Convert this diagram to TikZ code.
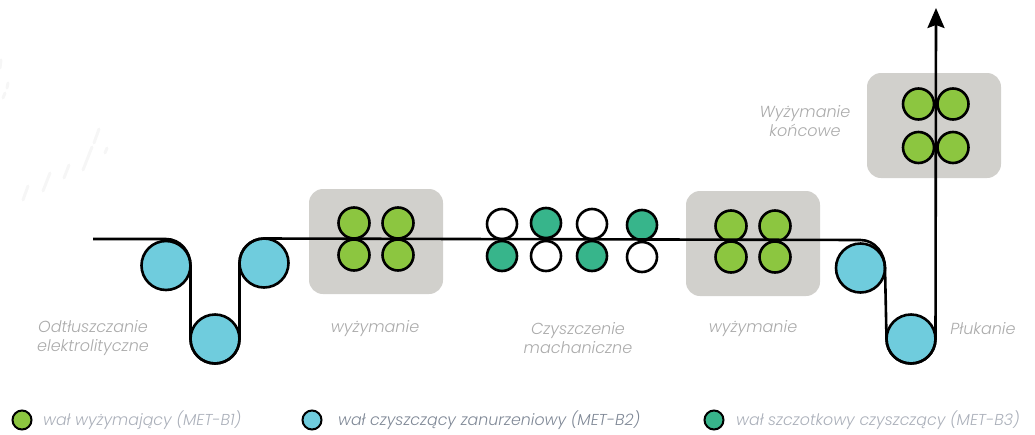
\documentclass[tikz,border=0pt]{standalone}
\usepackage{fontspec}
\setmainfont{Poppins Light}[ItalicFont=Poppins Light Italic]
\usetikzlibrary{positioning, arrows.meta}
\definecolor{greenroll}{HTML}{8CC640}
\definecolor{blueroll}{HTML}{6FCCDD}
\definecolor{tealroll}{HTML}{37B58B}
\definecolor{boxgray}{HTML}{D1D0CC}
\definecolor{labelgray}{HTML}{ABABAB}
\definecolor{legendgray}{HTML}{ABB0BA}
\definecolor{legenddark}{HTML}{7F8896}
\definecolor{smudge}{HTML}{F6F6F6}
\tikzset{roll/.style={circle, draw, line width=2.6pt, minimum size=#1, inner sep=0pt, outer sep=0pt},
	press/.style={roll=31pt, fill=greenroll},
	dip/.style={roll=49pt, fill=blueroll},
	brush/.style={roll=30pt, fill=tealroll},
	idle/.style={roll=30pt, fill=white},
	stage/.style={rounded corners=14pt, fill=boxgray, minimum width=134pt, minimum height=105pt, inner sep=0pt},
	caption/.style={align=center, text=labelgray, font=\fontsize{16}{19}\selectfont\itshape},
	key/.style={anchor=west, inner sep=0pt, font=\fontsize{15.8}{18}\selectfont\itshape},
	keyroll/.style={roll=19pt, line width=2pt},
	strip/.style={line width=2.6pt, line join=round},}

\begin{document}
\begin{tikzpicture}[x=1pt, y=-1pt]
	\useasboundingbox (0,0) rectangle (1035,434);
	% Smudges
	\foreach \xa/\ya/\xb/\yb in {99/129/94/143, 92/147/83/170, 107/148/105/153, 69/165/64/178, 50/173/43/191, 28/186/23/200, 8/83/7/88, 5/93/3/98, 1/60/0/68}
		\draw[smudge, line width=3pt, line cap=round] (\xa,\ya) -- (\xb,\yb);
	% Grey stages
	\node[stage] (stageA) at (376,241.5) {};
	\node[stage] (stageB) at (753,243.5) {};
	\node[stage] (stageC) at (934,125.5) {};
	% Dip rolls
	\node[dip] (dipA) at (166,265.5) {};
	\node[dip] (dipB) at (215,339) {};
	\node[dip] (dipC) at (264,263) {};
	\node[dip] (dipD) at (860.5,268) {};
	\node[dip] (dipE) at (911,339) {};
	% Press rolls
	\node[press] (pressA) at (354,223) {};
	\node[press] [right = 13pt of pressA] (pressB) {};
	\node[press] [below = 1pt of pressA] (pressC) {};
	\node[press] [right = 13pt of pressC] (pressD) {};
	\node[press] (pressE) at (731,226) {};
	\node[press] [right = 13pt of pressE] (pressF) {};
	\node[press] [below = 0pt of pressE] (pressG) {};
	\node[press] [right = 13pt of pressG] (pressH) {};
	\node[press] (pressI) at (918.5,104) {};
	\node[press] [right = 3.5pt of pressI] (pressJ) {};
	\node[press] [below = 12.5pt of pressI] (pressK) {};
	\node[press] [right = 3.5pt of pressK] (pressL) {};
	% Brush rolls
	\node[idle] (brushA) at (502,224) {};
	\node[brush] (brushB) at (546,223) {};
	\node[idle] (brushC) at (592,224) {};
	\node[brush] (brushD) at (642,225) {};
	\node[brush] [below = 2pt of brushA] (brushE) {};
	\node[idle] [below = 3pt of brushB] (brushF) {};
	\node[brush] [below = 2pt of brushC] (brushG) {};
	\node[idle] [below = 2pt of brushD] (brushH) {};
	% Strip
	\coordinate (in) at (93,239);
	\coordinate (wrap) at (166,239);
	\coordinate (bend) at (860.5,240);
	\coordinate (out) at (936,8);
	\draw[strip] (in) -- (wrap) to[out=0, in=90] (dipA.east)
		-- (dipB.west) to[out=-90, in=180] (dipB.south) to[out=0, in=-90] (dipB.east)
		-- (dipC.west) to[out=90, in=180] (dipC.north)
		-- (bend) to[out=0, in=90] (dipD.east)
		-- (dipE.west) to[out=-90, in=180] (dipE.south) to[out=0, in=-90] (dipE.east);
	\draw[strip, -{Stealth[length=20pt, width=17pt, inset=3pt]}] (dipE.east) -- (out);
	% Captions
	\node[caption] (capA) at (93,338) {Odtłuszczanie\\elektrolityczne};
	\node[caption] (capB) at (375,329) {wyżymanie};
	\node[caption] (capC) at (578,338) {Czyszczenie\\machaniczne};
	\node[caption] (capD) at (753,329) {wyżymanie};
	\node[caption] (capE) at (983,329) {Płukanie};
	\node[caption] (capF) at (805,121) {Wyżymanie\\końcowe};
	% Legend
	\node[keyroll, fill=greenroll] (keyA) at (22,420) {};
	\node[key, text=legendgray, right = 11.5pt of keyA] (keyAtext) {wał wyżymający (MET-B1)};
	\node[keyroll, fill=blueroll] (keyB) at (312,420) {};
	\node[key, text=legenddark, right = 16.5pt of keyB] (keyBtext) {wał czyszczący zanurzeniowy (MET-B2)};
	\node[keyroll, fill=tealroll] (keyC) at (714,420) {};
	\node[key, text=legendgray, right = 12.5pt of keyC] (keyCtext) {wał szczotkowy czyszczący (MET-B3)};
\end{tikzpicture}
\end{document}
